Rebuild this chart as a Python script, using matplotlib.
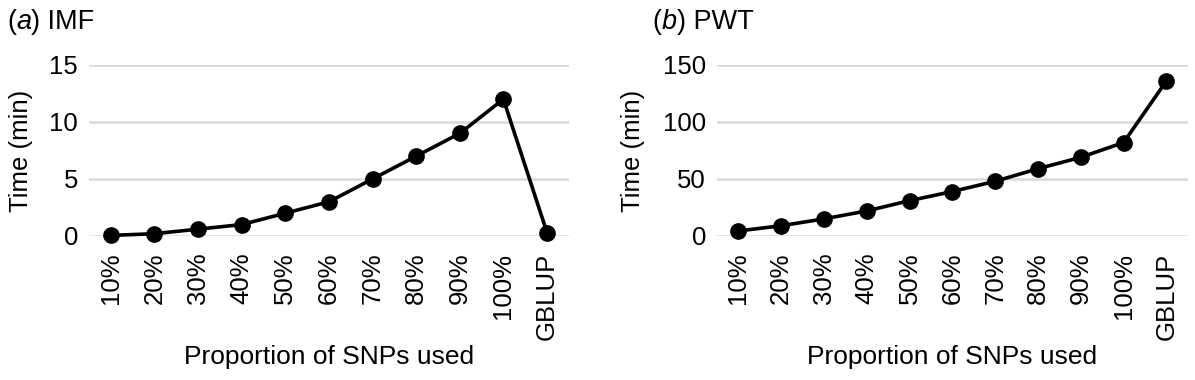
import matplotlib.pyplot as plt

plt.rcParams['font.family'] = ['Liberation Sans', 'DejaVu Sans']

categories = ['10%', '20%', '30%', '40%', '50%', '60%', '70%', '80%', '90%', '100%', 'GBLUP']
imf_time = [0.05, 0.2, 0.6, 1.0, 2.0, 3.0, 5.0, 7.0, 9.0, 12.0, 0.3]
pwt_time = [4.4, 9, 15, 22, 31, 39, 48, 59, 69, 82, 136]
imf_ticks = [0, 5, 10, 15]
pwt_ticks = [0, 50, 100, 150]

fig = plt.figure(figsize=(11.95, 3.8), dpi=100)
ax1 = fig.add_axes([0.0745, 0.379, 0.4015, 0.45])
ax2 = fig.add_axes([0.600, 0.379, 0.394, 0.45])

panels = [
    (ax1, imf_time, imf_ticks, 'a', ' IMF', 0.006, -0.142),
    (ax2, pwt_time, pwt_ticks, 'b', ' PWT', 0.546, -0.178),
]

for ax, vals, yt, letter, rest, tx, ylx in panels:
    x = list(range(len(categories)))
    ax.plot(x, vals, color='black', lw=2.6, marker='o', ms=11, clip_on=False, zorder=3)
    ax.set_xlim(-0.5, len(categories) - 0.5)
    ax.set_ylim(yt[0], yt[-1])
    ax.set_yticks(yt)
    ax.set_xticks(x)
    ax.set_xticklabels(categories, rotation=90, fontsize=18.5)
    ax.tick_params(axis='y', labelsize=18.5, length=0, pad=8)
    ax.tick_params(axis='x', length=0, pad=12)
    ax.grid(axis='y', color='#d9d9d9', lw=1.8)
    ax.set_axisbelow(True)
    for s in ax.spines.values():
        s.set_visible(False)
    ax.set_ylabel('Time (min)', fontsize=18.5, va='center')
    ax.yaxis.set_label_coords(ylx, 0.5)
    ax.set_xlabel('Proportion of SNPs used', fontsize=19, va='center')
    ax.xaxis.set_label_coords(0.5, -0.708)

    # title: "(a) IMF" with italic letter
    t = fig.text(tx, 0.942, '(', fontsize=19.5, va='center')
    fig.canvas.draw()
    bb = t.get_window_extent()
    t2 = fig.text(bb.x1 / fig.bbox.width, 0.942, letter, fontsize=19.5, va='center', style='italic')
    fig.canvas.draw()
    bb2 = t2.get_window_extent()
    fig.text(bb2.x1 / fig.bbox.width, 0.942, ')' + rest, fontsize=19.5, va='center')

fig.savefig('out.png', dpi=100)
